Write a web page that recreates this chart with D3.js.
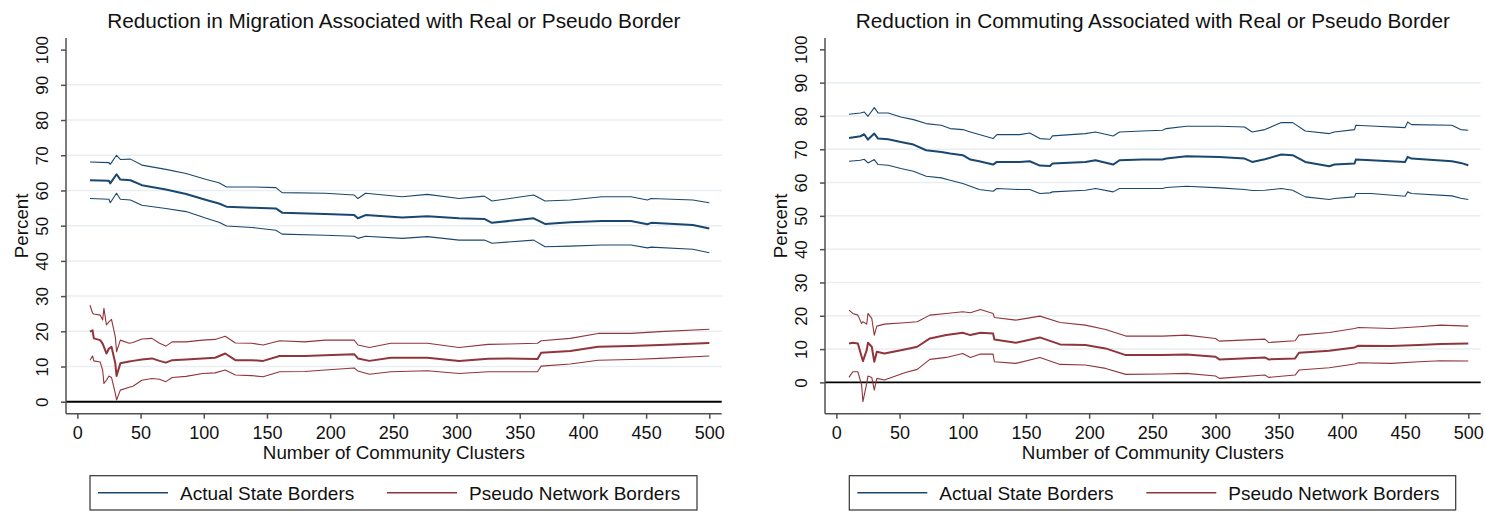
<!DOCTYPE html>
<html>
<head>
<meta charset="utf-8">
<script src="https://cdn.jsdelivr.net/npm/d3@7"></script>
<style>
  body { margin: 0; background: #fff; }
  svg { display: block; font-family: "Liberation Sans", Arial, sans-serif; }
</style>
</head>
<body>
<svg id="chart" width="1486" height="513"></svg>
<script>
// ---- data ----
const yTicks = [0, 10, 20, 30, 40, 50, 60, 70, 80, 90, 100]
const xTicks = [0, 50, 100, 150, 200, 250, 300, 350, 400, 450, 500]
const legendLabels = ["Actual State Borders", "Pseudo Network Borders"]

// migration, actual state borders
const migStateClusters = [10, 25, 26, 31, 34, 42, 51, 70, 86, 102, 112, 118, 138, 157, 162, 196, 219, 222, 228, 257, 277, 302, 322, 328, 361, 370, 390, 415, 438, 451, 454, 487, 500]
const migStateHi  = [68.1, 67.9, 67.4, 70.0, 68.8, 68.9, 67.2, 66.0, 64.8, 63.1, 62.2, 61.0, 61.0, 60.8, 59.4, 59.2, 58.7, 57.7, 59.2, 58.2, 58.9, 57.7, 58.4, 57.0, 58.7, 57.0, 57.3, 58.2, 58.2, 57.3, 57.7, 57.3, 56.5]
const migStateEst = [62.9, 62.75, 62.0, 64.6, 63.1, 62.9, 61.5, 60.3, 59.0, 57.3, 56.3, 55.4, 55.1, 54.9, 53.7, 53.3, 53.0, 52.1, 53.0, 52.3, 52.7, 52.1, 51.9, 50.8, 52.1, 50.5, 51.0, 51.3, 51.3, 50.4, 50.8, 50.2, 49.2]
const migStateLo  = [57.7, 57.5, 56.5, 59.2, 57.5, 57.3, 55.8, 54.9, 54.0, 52.1, 51.0, 49.9, 49.5, 48.7, 47.6, 47.3, 47.0, 46.4, 47.0, 46.4, 46.9, 45.9, 45.9, 45.0, 45.9, 44.0, 44.2, 44.5, 44.5, 43.7, 43.9, 43.3, 42.3]

// migration, pseudo network borders
const migPseudoClusters = [10, 12, 13, 18, 20, 21, 23, 25, 27, 30, 31, 34, 41, 44, 51, 59, 65, 70, 75, 86, 99, 109, 117, 125, 138, 147, 160, 180, 196, 219, 222, 231, 248, 277, 302, 325, 341, 364, 367, 390, 412, 438, 461, 500]
const migPseudoHi  = [27.4, 25.2, 24.9, 24.6, 23.2, 26.5, 21.8, 22.7, 23.4, 18.5, 14.2, 17.5, 16.6, 16.8, 17.8, 18.0, 16.6, 15.8, 17.0, 17.0, 17.5, 17.7, 18.6, 16.7, 16.6, 16.1, 17.3, 17.0, 17.5, 17.5, 16.1, 15.4, 16.6, 16.6, 15.4, 16.3, 16.4, 16.6, 17.3, 18.0, 19.4, 19.4, 19.9, 20.6]
const migPseudoEst = [19.9, 20.3, 18.0, 17.5, 16.5, 15.6, 13.7, 15.1, 15.6, 10.9, 7.3, 10.9, 11.4, 11.6, 12.0, 12.3, 11.6, 11.1, 11.8, 12.0, 12.3, 12.5, 13.7, 11.8, 11.8, 11.6, 13.0, 13.0, 13.2, 13.5, 12.3, 11.6, 12.5, 12.5, 11.6, 12.2, 12.3, 12.1, 13.9, 14.4, 15.6, 15.8, 16.1, 16.7]
const migPseudoLo  = [11.8, 13.0, 11.6, 11.3, 9.0, 5.2, 6.1, 7.3, 6.9, 2.4, 0.5, 3.3, 4.1, 4.4, 6.1, 6.6, 6.4, 5.7, 6.9, 7.2, 8.0, 8.2, 9.0, 7.6, 7.4, 7.1, 8.5, 8.6, 9.0, 9.6, 8.7, 7.8, 8.5, 8.8, 8.0, 8.5, 8.5, 8.5, 10.1, 10.7, 11.8, 12.0, 12.3, 13.0]

// commuting, actual state borders
const comStateClusters = [10, 19, 22, 25, 30, 33, 41, 51, 61, 71, 83, 90, 100, 106, 113, 124, 127, 145, 153, 161, 169, 171, 197, 205, 219, 224, 242, 258, 261, 277, 303, 323, 329, 339, 352, 361, 371, 390, 394, 410, 411, 423, 450, 452, 455, 487, 494, 500]
const comStateHi  = [80.5, 80.9, 81.2, 79.9, 82.5, 80.9, 80.9, 79.7, 78.9, 77.7, 77.2, 76.2, 75.9, 75.2, 74.4, 73.2, 74.4, 74.4, 74.9, 73.2, 73.0, 74.0, 74.7, 75.2, 74.0, 75.2, 75.5, 75.7, 76.2, 76.9, 76.9, 76.7, 75.2, 75.9, 78.0, 78.0, 75.5, 74.7, 75.2, 75.9, 77.2, 77.0, 76.5, 78.2, 77.4, 77.2, 75.9, 75.7]
const comStateEst = [73.4, 73.9, 74.5, 72.9, 74.7, 73.2, 73.0, 72.2, 71.4, 69.7, 69.2, 68.7, 68.2, 66.9, 66.4, 65.4, 66.2, 66.2, 66.4, 65.1, 65.0, 65.7, 66.2, 66.7, 65.4, 66.7, 66.9, 66.9, 67.2, 67.9, 67.7, 67.2, 66.2, 67.0, 68.4, 68.2, 66.2, 64.9, 65.4, 65.7, 66.9, 66.7, 66.2, 67.7, 67.2, 66.4, 65.9, 65.2]
const comStateLo  = [66.4, 66.7, 67.0, 65.9, 66.9, 65.4, 65.2, 64.2, 63.4, 61.9, 61.4, 60.7, 59.7, 58.9, 57.9, 57.4, 58.2, 57.9, 57.9, 56.7, 56.9, 57.2, 57.7, 58.2, 57.2, 58.2, 58.2, 58.2, 58.5, 58.9, 58.4, 57.9, 57.6, 57.7, 58.2, 57.7, 55.7, 54.9, 55.2, 55.7, 56.7, 56.7, 55.9, 57.2, 56.7, 56.0, 55.3, 54.9]

// commuting, pseudo network borders
const comPseudoClusters = [10, 13, 17, 20, 21, 24, 25, 28, 30, 32, 38, 54, 64, 74, 87, 100, 106, 114, 124, 125, 142, 161, 177, 197, 213, 229, 258, 277, 300, 303, 339, 342, 363, 366, 390, 410, 413, 439, 461, 478, 500]
const comPseudoHi  = [21.7, 20.7, 20.2, 17.7, 18.2, 17.5, 20.7, 19.2, 14.2, 16.9, 17.5, 17.9, 18.2, 20.2, 20.7, 21.2, 20.9, 21.9, 20.7, 19.5, 18.7, 19.9, 18.0, 17.2, 15.9, 13.9, 13.9, 14.2, 13.2, 12.4, 13.0, 12.0, 12.5, 14.2, 15.0, 16.2, 16.5, 16.2, 16.7, 17.2, 16.9]
const comPseudoEst = [11.7, 11.9, 11.7, 7.7, 6.4, 9.7, 11.9, 10.7, 6.2, 9.2, 8.7, 9.9, 10.7, 13.2, 14.2, 14.9, 14.2, 14.9, 14.7, 12.9, 11.9, 13.5, 11.4, 11.2, 10.2, 8.2, 8.2, 8.4, 7.7, 6.9, 7.5, 6.9, 7.2, 8.9, 9.5, 10.5, 11.0, 10.9, 11.2, 11.5, 11.7]
const comPseudoLo  = [1.5, 3.2, 3.2, -0.8, -5.8, -0.3, 1.9, 1.5, -2.3, 1.2, 0.7, 2.9, 3.9, 6.9, 7.5, 8.7, 7.5, 8.5, 8.5, 6.2, 5.7, 7.5, 5.4, 5.2, 4.2, 2.4, 2.5, 2.7, 1.9, 1.2, 2.2, 1.5, 2.2, 3.7, 4.4, 5.5, 5.9, 5.7, 6.2, 6.5, 6.4]

// ---- styling ----
const navy = "#1a476f"
const maroon = "#90353b"
const axisColor = "#505050"
const gridColor = "#e8eef1"

const panels = [
    {
        title: "Reduction in Migration Associated with Real or Pseudo Border",
        plot: { left: 66, right: 721.7, top: 38, bottom: 413.7 },
        yDomain: [-3.4, 103.3],
        legend: { left: 90, right: 697 },
        groups: [
            { color: navy, x: migStateClusters, hi: migStateHi, est: migStateEst, lo: migStateLo },
            { color: maroon, x: migPseudoClusters, hi: migPseudoHi, est: migPseudoEst, lo: migPseudoLo }
        ]
    },
    {
        title: "Reduction in Commuting Associated with Real or Pseudo Border",
        plot: { left: 825, right: 1480.7, top: 38, bottom: 413.7 },
        yDomain: [-9.4, 103.4],
        legend: { left: 849.3, right: 1455.7 },
        groups: [
            { color: navy, x: comStateClusters, hi: comStateHi, est: comStateEst, lo: comStateLo },
            { color: maroon, x: comPseudoClusters, hi: comPseudoHi, est: comPseudoEst, lo: comPseudoLo }
        ]
    }
]

const svg = d3.select("#chart")

function drawPanel(p) {
    const g = svg.append("g")

    const xScale = d3.scaleLinear()
        .domain([-9, 509.8])
        .range([p.plot.left, p.plot.right])
    const yScale = d3.scaleLinear()
        .domain(p.yDomain)
        .range([p.plot.bottom, p.plot.top])

    // gridlines (not at the extreme ticks)
    g.append("g")
        .selectAll("line")
        .data(yTicks.filter(t => t > 0 && t < 100))
        .join("line")
            .attr("x1", p.plot.left)
            .attr("x2", p.plot.right)
            .attr("y1", d => yScale(d))
            .attr("y2", d => yScale(d))
            .attr("stroke", gridColor)
            .attr("stroke-width", 1.5)

    // zero reference line
    g.append("line")
        .attr("x1", p.plot.left)
        .attr("x2", p.plot.right)
        .attr("y1", yScale(0))
        .attr("y2", yScale(0))
        .attr("stroke", "#000")
        .attr("stroke-width", 1.8)

    // y axis
    const yAxis = g.append("g")
        .attr("transform", `translate(${p.plot.left},0)`)
        .call(d3.axisLeft(yScale).tickValues(yTicks).tickSize(5).tickSizeOuter(0))
    yAxis.select(".domain").attr("d", `M0,${p.plot.top}V${p.plot.bottom}`)
    yAxis.selectAll("text")
        .attr("x", null)
        .attr("dy", "0.35em")
        .attr("text-anchor", "middle")
        .attr("transform", "translate(-24,0) rotate(-90)")
        .style("font-size", "17px")

    // x axis
    const xAxis = g.append("g")
        .attr("transform", `translate(0,${p.plot.bottom})`)
        .call(d3.axisBottom(xScale).tickValues(xTicks).tickSize(5).tickPadding(8).tickSizeOuter(0))
    xAxis.select(".domain").attr("d", `M${p.plot.left},0H${p.plot.right}`)
    xAxis.selectAll("text").style("font-size", "18px")

    g.selectAll(".domain, .tick line")
        .attr("stroke", axisColor)
        .attr("stroke-width", 1.5)
    g.selectAll(".tick text").attr("fill", "#111").attr("font-family", null)

    // series
    p.groups.forEach(grp => {
        const lineOf = vals => d3.line()
            .x((d, i) => xScale(grp.x[i]))
            .y(d => yScale(d))(vals)
        ;[["hi", 1.1], ["lo", 1.1], ["est", 2]].forEach(([k, w]) => {
            g.append("path")
                .attr("d", lineOf(grp[k]))
                .attr("fill", "none")
                .attr("stroke", grp.color)
                .attr("stroke-width", w)
                .attr("stroke-linejoin", "round")
        })
    })

    const midX = (p.plot.left + p.plot.right) / 2
    const midY = (p.plot.top + p.plot.bottom) / 2

    // titles
    g.append("text")
        .attr("x", midX).attr("y", 27.7)
        .attr("text-anchor", "middle")
        .style("font-size", "20.8px")
        .attr("fill", "#111")
        .text(p.title)

    g.append("text")
        .attr("x", midX).attr("y", 459)
        .attr("text-anchor", "middle")
        .style("font-size", "18.8px")
        .attr("fill", "#111")
        .text("Number of Community Clusters")

    g.append("text")
        .attr("transform", `translate(${p.plot.left - 45},${midY}) rotate(-90)`)
        .attr("dy", "0.35em")
        .attr("text-anchor", "middle")
        .style("font-size", "18.8px")
        .attr("fill", "#111")
        .text("Percent")

    // legend
    const lg = g.append("g")
    lg.append("rect")
        .attr("x", p.legend.left).attr("y", 475.7)
        .attr("width", p.legend.right - p.legend.left)
        .attr("height", 34.3)
        .attr("fill", "#fff")
        .attr("stroke", "#333")
        .attr("stroke-width", 1.2)
    legendLabels.forEach((lab, i) => {
        const off = i === 0 ? 8 : 297
        lg.append("line")
            .attr("x1", p.legend.left + off).attr("x2", p.legend.left + off + 70)
            .attr("y1", 492.7).attr("y2", 492.7)
            .attr("stroke", p.groups[i].color)
            .attr("stroke-width", 1.6)
        lg.append("text")
            .attr("x", p.legend.left + off + 82).attr("y", 500)
            .style("font-size", "19px")
            .attr("fill", "#111")
            .text(lab)
    })
}

panels.forEach(drawPanel)
</script>
</body>
</html>
